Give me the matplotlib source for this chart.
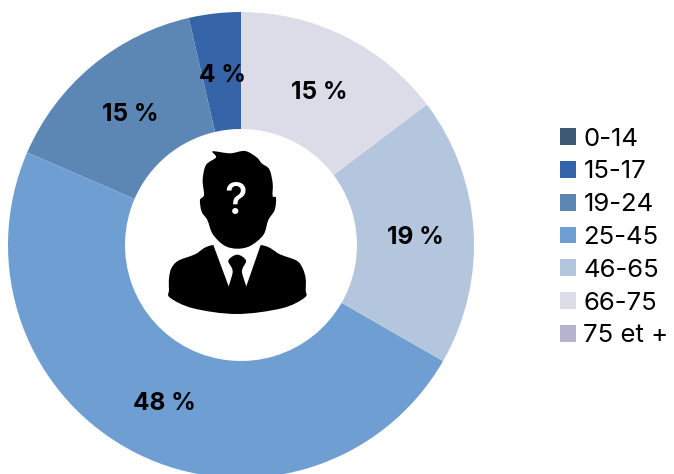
import matplotlib
matplotlib.use('Agg')
import numpy as np
import matplotlib.pyplot as plt
from matplotlib.patches import PathPatch
from matplotlib.path import Path

plt.rcParams['font.family'] = ['Inter', 'DejaVu Sans']

# age groups, in legend order
ages = ['0-14', '15-17', '19-24', '25-45', '46-65', '66-75', '75 et +']
shares = [0, 3.6, 14.9, 48.2, 18.6, 14.7, 0]
colors = ['#3d5a75', '#3565a8', '#5c86b3', '#6f9fd2', '#b3c6de', '#dcdce8', '#b5b3cf']

fig = plt.figure(figsize=(6.74, 4.74), dpi=100)
ax = fig.add_axes([0, 0, 1, 1])

cx, cy, R = 241, 474 - 245, 233
wedges, _ = ax.pie(shares, colors=colors, startangle=90, counterclock=True,
                   center=(cx, cy), radius=R, frame=True,
                   wedgeprops=dict(width=R - 116, linewidth=0))

# percentage labels
for w, v in zip(wedges, shares):
    if v == 0:
        continue
    a = np.radians((w.theta1 + w.theta2) / 2)
    ax.text(cx + 174 * np.cos(a) + 1, cy + 174 * np.sin(a) - 3, f'{v:.0f} %', ha='center', va='center',
            fontsize=17.5, fontweight='bold', color='black')


# icon, points read in target pixels
def poly(pts, color, smooth=True):
    pts = [(150 + x / 3, 474 - (130 + y / 3)) for x, y in pts]
    if smooth:
        verts = [pts[0]]
        codes = [Path.MOVETO]
        n = len(pts)
        for i in range(n):
            p0, p1, p2, p3 = [np.array(pts[(i + k) % n]) for k in (-1, 0, 1, 2)]
            verts += [tuple(p1 + (p2 - p0) / 6), tuple(p2 - (p3 - p1) / 6), tuple(p2)]
            codes += [Path.CURVE4] * 3
    else:
        verts = pts + [pts[0]]
        codes = [Path.MOVETO] + [Path.LINETO] * (len(pts) - 1) + [Path.CLOSEPOLY]
    ax.add_patch(PathPatch(Path(verts, codes), facecolor=color, edgecolor='none', zorder=5))


poly([(190, 345), (135, 373), (85, 392), (64, 415), (57, 445), (57, 480), (60, 503), (130, 535),
      (260, 552), (395, 535), (464, 503), (467, 480), (467, 445), (458, 415), (440, 392), (390, 373),
      (332, 345)], 'black')
poly([(190, 345), (240, 480), (262, 420), (285, 480), (332, 345), (262, 300)], 'white', smooth=False)
poly([(188, 64), (240, 70), (285, 63), (320, 82), (335, 100), (358, 118), (368, 160), (368, 198),
      (378, 203), (374, 240), (355, 270), (340, 315), (300, 348), (260, 356), (222, 346),
      (188, 312), (172, 270), (155, 245), (150, 210), (162, 195), (158, 150), (168, 105), (198, 82)], 'black')
poly([(262, 374), (288, 392), (276, 425), (290, 490), (235, 490), (248, 425), (235, 392)], 'black')
ax.text(150 + 258 / 3, 474 - (130 + 216 / 3), '?', ha='center', va='center', fontsize=31,
        fontweight='medium', color='white', zorder=6)

ax.legend(wedges, ages, loc='upper left', bbox_to_anchor=(552 / 674, 1 - 120 / 474),
          bbox_transform=fig.transFigure, frameon=False, fontsize=18.5, handlelength=0.62,
          handleheight=0.62, handletextpad=0.3, labelspacing=0.38, borderpad=0.3, borderaxespad=0)

ax.set_xlim(0, 674)
ax.set_ylim(0, 474)
ax.set_aspect('equal')
ax.axis('off')

plt.savefig('out.png', dpi=100)
